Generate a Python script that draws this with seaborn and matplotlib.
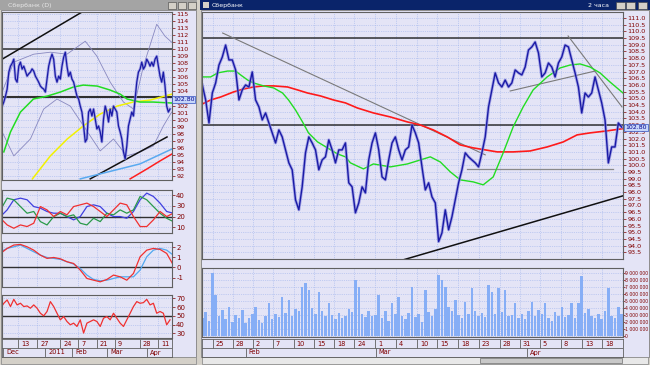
import numpy as np
import matplotlib
matplotlib.use('Agg')
import matplotlib.pyplot as plt
import matplotlib.transforms as mtrans
import seaborn as sns
from matplotlib.patches import Rectangle

# ------------------- Main window: Sberbank, 2-hour bars -------------------
price_2h = [
    106.00, 104.88, 103.16, 105.40, 106.15, 107.49, 108.09, 108.98, 107.87, 107.87,
    107.12, 104.88, 105.63, 106.00, 105.85, 106.97, 104.88, 104.36, 103.39, 103.91,
    103.16, 102.42, 101.67, 102.64, 102.12, 101.15, 100.18, 99.66, 97.42, 96.67,
    98.39, 100.93, 102.12, 101.67, 101.15, 99.66, 100.40, 100.63, 101.90, 101.15,
    100.18, 101.15, 101.15,
    101.67, 98.69, 98.39, 96.45, 97.19, 98.39, 97.94, 100.40, 101.67, 102.42,
    101.15, 99.13, 98.91, 100.40, 101.67, 102.12, 101.15, 100.40, 101.15, 101.37,
    103.01, 102.42, 101.67, 99.88, 98.16, 98.69, 97.64, 97.19, 94.30, 94.95,
    96.67, 95.18, 96.15, 97.42, 98.69, 99.66, 100.93, 100.63, 100.40, 100.18,
    99.88, 100.93,
    102.12, 104.36, 105.63, 106.90, 106.15, 105.85, 106.37, 105.85, 106.15, 107.12,
    106.90, 106.75, 107.34, 108.61, 108.84, 109.21, 108.39, 106.60, 106.90, 107.64,
    107.34, 106.60, 107.64, 108.09, 108.98, 108.84, 107.87, 106.90, 105.85, 103.91,
    105.40, 105.10, 105.40, 106.60, 105.63, 104.66, 103.39, 100.18, 101.37, 101.37,
    103.16, 102.85,
]
red_ma_x = [0, 2.5, 5.5, 9.4, 12.4, 15.4, 18.4, 21.4, 25.6, 28.6, 31.6, 35.5, 39.4, 43.0,
            46.6, 51.4, 56.5, 61.6, 65.5, 69.4, 73.6, 77.5, 81.4, 85.0, 88.6, 93.4, 98.5,
            103.6, 108.4, 112.6, 116.5, 121.6, 126.4]
red_ma = [104.58, 104.88, 105.10, 105.48, 105.70, 105.85, 105.93, 105.93, 105.85, 105.63,
          105.40, 105.18, 104.88, 104.66, 104.28, 103.91, 103.61, 103.24, 103.01, 102.64,
          102.12, 101.52, 101.30, 101.15, 101.00, 101.00, 101.07, 101.37, 101.74, 102.27,
          102.42, 102.57, 102.74]
green_ma_x = [0, 2.5, 4.6, 7.6, 10.0, 11.5, 13.6, 15.4, 18.4, 21.4, 24.1, 25.9, 28.0, 30.1,
              31.9, 34.6, 37.6, 40.6, 43.0, 44.5, 48.4, 51.4, 56.5, 61.6, 65.5, 68.5, 71.5,
              74.5, 77.5, 81.4, 84.4, 87.4, 90.4, 93.4, 96.4, 99.4, 103.6, 107.5, 110.5,
              113.5, 116.5, 119.5, 122.5, 126.4]
green_ma = [106.60, 106.60, 106.90, 107.04, 107.04, 106.75, 106.37, 106.15, 105.93, 105.78,
            105.40, 104.88, 104.13, 103.24, 102.42, 101.75, 101.30, 100.85, 100.63, 100.18,
            99.73, 100.10, 99.88, 100.10, 100.40, 100.63, 100.25, 99.51, 98.91, 98.76,
            98.54, 99.13, 100.93, 102.87, 104.36, 105.63, 106.60, 107.27, 107.49, 107.57,
            107.34, 106.90, 106.22, 105.40]
volume_mln = [
    2.6, 3.4, 2.1, 9.0, 5.9, 2.8, 3.7, 2.4, 4.2, 2.0,
    3.0, 2.5, 3.7, 1.9, 2.6, 3.2, 4.2, 2.3, 1.8, 2.9,
    4.7, 2.4, 3.1, 2.7, 5.6, 3.3, 5.1, 2.9, 3.8, 3.5,
    7.0, 7.5, 6.6, 4.0, 3.1, 6.3, 3.6, 2.8, 4.7, 3.0,
    2.4, 3.3, 2.6, 2.9, 3.9, 3.4, 8.0, 7.0, 3.2, 2.7,
    3.5, 2.8, 3.0, 5.9, 2.5, 3.6, 2.2, 4.7, 3.1, 5.6,
    2.9, 2.4, 3.3, 7.0, 2.7, 3.1, 2.0, 6.6, 3.4, 2.8,
    3.9, 8.7, 8.0, 7.0, 4.1, 3.5, 5.1, 3.0, 2.6, 4.9,
    3.2, 6.8, 3.6, 2.9, 3.3, 2.7, 7.3, 6.3, 3.1, 6.8,
    3.4, 6.6, 2.8, 3.0, 4.7, 2.5, 3.2, 2.4, 3.6, 4.9,
    2.8, 3.7, 3.1, 4.7, 2.6, 2.2, 3.4, 2.9, 4.2, 2.7,
    3.0, 4.7, 2.5, 4.7, 8.5, 3.3, 3.9, 2.8, 2.6, 3.2,
    2.4, 3.5, 6.8, 2.9, 2.6, 4.2, 3.1,
]
# drawn levels / trend lines (start, end) in bar index and price
main_hlines = [109.5, 103.0]
main_support = ([79.6, 123.4], [99.73, 99.73])
main_grey_lines = [([6.1, 85.0], [109.88, 100.78]),
                   ([109.9, 126.1], [109.66, 104.36]),
                   ([92.5, 118.0], [105.55, 107.04])]
main_black_trend = ([60.4, 126.4], [92.94, 97.72])
main_day_labels = ['25', '28', '2', '7', '10', '15', '18', '24', '1', '4',
                   '10', '15', '18', '23', '28', '31', '5', '8', '13', '18']
main_day_pos = [3.1, 9.1, 15.1, 21.1, 27.4, 33.7, 39.7, 45.7, 52.0, 58.3,
                64.6, 70.6, 76.9, 83.2, 89.5, 95.5, 101.5, 107.8, 114.1, 120.1]
main_month_labels = ['Feb', 'Mar', 'Apr']
main_month_pos = [13.0, 52.2, 97.5]
main_price_ticks = [93.5 + 0.5 * k for k in range(36)]
vol_ticks = [0, 1, 2, 3, 4, 5, 6, 7, 8, 9]
vol_tick_labels = ['0', '1 000 000', '2 000 000', '3 000 000', '4 000 000', '5 000 000',
                   '6 000 000', '7 000 000', '8 000 000', '9 000 000']
last_price = '102.80'

# ------------------- Left window: daily bars -------------------
price_d = [
    101.92, 102.50, 103.34, 104.33, 106.74, 107.59, 108.00, 108.58, 105.75, 105.32,
    107.59, 108.16, 107.17, 107.59, 106.90, 106.17, 106.50, 106.74, 107.20, 106.88,
    106.17, 105.75, 105.30, 104.76, 104.50, 104.33, 103.91, 105.75, 107.59, 108.58,
    109.29, 108.58, 106.17, 105.32, 106.17, 105.75, 107.59, 108.86, 109.57, 107.59,
    106.17, 106.74, 105.75, 105.32, 104.33, 103.34, 102.92, 101.92, 101.07, 99.09,
    96.82, 97.25, 101.07, 101.50, 100.51, 101.50, 100.08, 98.67, 99.09, 98.24,
    96.82, 100.08, 101.92, 101.07, 99.66, 101.50, 100.51, 101.92, 101.50, 101.07,
    99.09, 98.24, 97.25, 95.41, 94.42, 96.26, 99.09, 100.08, 101.07, 100.51,
    102.92, 105.32, 106.74, 107.17, 108.16, 107.17, 107.59, 108.58, 108.16, 107.59,
    108.16, 107.59, 108.58, 109.01, 107.59, 106.17, 105.32, 106.74, 104.76, 101.92,
    101.07, 101.50,
]
d_green_x = [1, 5, 11, 18.8, 27.2, 35, 42.8, 48.8, 57.2, 65, 71, 75.2, 83, 90.8, 102.2]
d_green = [95.41, 98.24, 101.07, 102.92, 103.34, 103.91, 104.62, 104.90, 104.76, 104.19,
           103.62, 102.92, 102.49, 102.49, 102.35]
d_yellow_x = [18.2, 29, 39.2, 48.8, 59, 69.2, 78.8, 89, 102.2]
d_yellow = [91.58, 94.84, 97.25, 99.09, 100.79, 101.92, 102.49, 102.77, 103.62]
d_blue_x = [47, 59, 71, 83, 93.2, 102.2]
d_blue = [91.58, 92.29, 93.00, 93.71, 94.84, 95.83]
d_red_x = [77, 87.2, 95, 102.2]
d_red = [91.58, 93.00, 94.13, 95.12]
d_bb_up_x = [0, 7, 19, 29, 39, 50, 57, 65, 73, 79, 85, 93, 98, 102]
d_bb_up = [103.91, 108.16, 109.29, 109.57, 109.29, 111.13, 109.01, 105.32, 102.49, 101.50,
           107.59, 113.54, 111.84, 110.99]
d_bb_lo_x = [0, 7, 17, 25, 33, 41, 49, 59, 67, 75, 83, 91, 97, 102]
d_bb_lo = [98.24, 94.84, 97.25, 101.50, 102.92, 101.92, 99.09, 95.55, 97.25, 94.84,
           95.41, 96.26, 99.09, 101.07]
d_hlines = [110.0, 103.2]
d_trend_up = ([0, 48.8], [108.58, 115.38])
d_trend_lo = ([53, 99.2], [91.58, 97.53])
d_day_labels = ['13', '27', '24', '7', '21', '9', '28', '11']
d_day_pos = [9.8, 21.2, 35.0, 45.8, 57.2, 68.0, 83.0, 93.8]
d_month_labels = ['Dec', '2011', 'Feb', 'Mar', 'Apr']
d_month_pos = [0.8, 26.0, 42.2, 63.2, 87.2]

# indicators (one value every 4 daily bars, first at bar -1)
adx_blue = [20, 26.2, 35.6, 37.1, 35.6, 29.3, 27.8, 24.7, 23.1, 23.1, 20, 16.9, 20, 29.3,
            30.9, 29.3, 23.1, 20, 20, 18.4, 24.7, 35.6, 41.8, 38.7, 32.5, 24.7, 23.1]
adx_green = [26.2, 37.1, 35.6, 29.3, 23.1, 24.7, 15.3, 12.2, 20, 23.1, 20, 21.6, 13.8, 12.2,
             18.4, 15.3, 23.1, 21.6, 26.2, 23.1, 26.2, 38.7, 35.6, 29.3, 23.1, 18.4, 15.3]
adx_red = [18.4, 12.2, 9.1, 12.2, 10.7, 13.8, 29.3, 26.2, 20, 24.7, 21.6, 29.3, 30.9, 32.5,
           29.3, 24.7, 20, 26.2, 32.5, 30.9, 20, 10.7, 10.7, 16.9, 24.7, 20, 23.1]
macd_red = [1.38, 1.87, 2.20, 2.26, 2.03, 1.70, 1.21, 0.89, 0.98, 0.85, 0.56, 0.39, -0.26,
            -1.08, -1.25, -1.41, -1.18, -0.75, -0.92, -1.25, -0.59, 1.05, 1.70, 1.87, 1.77,
            1.38, 0.23]
macd_blue = [1.54, 1.87, 2.03, 2.20, 1.87, 1.54, 1.21, 0.98, 0.89, 0.79, 0.56, 0.33, -0.10,
             -0.75, -1.18, -1.31, -1.25, -1.08, -0.92, -0.92, -0.92, -0.26, 1.05, 1.70, 1.87,
             1.70, 1.21]
# RSI, one value every 2 daily bars
rsi = [58.8, 64.5, 68.3, 60.7, 69.0, 62.6, 64.5, 60.7, 61.4, 58.8, 62.6, 58.8, 53.0, 50.0,
       55.0, 66.4, 60.7, 53.0, 45.4, 49.2, 43.5, 39.7, 41.6, 37.8, 45.4, 30.2, 41.6, 43.5,
       45.4, 43.5, 37.8, 47.3, 49.2, 45.4, 53.0, 47.3, 41.6, 37.8, 45.4, 53.0, 60.7, 66.4,
       64.5, 65.2, 69.0, 62.6, 64.5, 53.0, 55.0, 53.0, 39.7, 45.4]

# ------------------- Styling -------------------
BG = '#e4e4f6'
GRID = '#9db2ec'
LBL = '#800000'
W, H = 650, 365

fig = plt.figure(figsize=(6.5, 3.65), dpi=100)
fig.patch.set_facecolor('#d4d0c8')


def px_axes(x0, y0, x1, y1):
    return fig.add_axes([x0 / W, 1 - y1 / H, (x1 - x0) / W, (y1 - y0) / H])


# window chrome drawn in pixel space
bg = px_axes(0, 0, W, H)
bg.set_xlim(0, W)
bg.set_ylim(H, 0)
bg.axis('off')


def box(x0, y0, x1, y1, fc, ec='none', lw=0.6):
    bg.add_patch(Rectangle((x0, y0), x1 - x0, y1 - y0, facecolor=fc, edgecolor=ec, linewidth=lw))


box(1, 10, 196, 357, BG, ec='#808080')
box(0, 0, 197, 10, '#a4a4a4')
box(1, 357, 196, 364, '#d4d0c8', ec='#909090')
box(201, 10, 649, 357, BG, ec='#808080')
box(200, 0, 650, 10, '#0a246a')
box(202, 357, 648, 364, '#e8e8e8', ec='#909090')
box(480, 358, 622, 363, '#c8c8c8', ec='#808080')
box(203, 2, 209, 8, '#d4d0c8')
for bx in (616, 626, 638):
    box(bx, 1.5, bx + 9, 8.5, '#d4d0c8', ec='#404040', lw=0.4)
for bx in (168, 178, 188):
    box(bx, 1.5, bx + 8, 8.5, '#d4d0c8', ec='#404040', lw=0.4)
bg.text(212, 5.2, 'Сбербанк', color='white', fontsize=4.5, va='center')
bg.text(588, 5.2, '2 часа', color='white', fontsize=4.5, va='center')
bg.text(8, 5.2, 'Сбербанк (D)', color='#e8e8e8', fontsize=4.5, va='center')


def style_panel(ax, xlim, ylim, yticks, ylabels, xgrid, fs=5):
    ax.set_facecolor(BG)
    ax.set_xlim(xlim)
    ax.set_ylim(ylim)
    ax.yaxis.tick_right()
    ax.set_yticks(yticks)
    ax.set_yticklabels(ylabels, fontsize=fs, color=LBL)
    ax.tick_params(axis='y', length=2, pad=1, width=0.5, colors=LBL)
    ax.set_xticks(xgrid)
    ax.set_xticklabels([])
    ax.tick_params(axis='x', length=0)
    ax.grid(True, color=GRID, lw=0.5, ls=':')
    ax.set_axisbelow(True)
    for s in ax.spines.values():
        s.set_color('#606060')
        s.set_linewidth(0.8)
    ax.set_xlabel('')
    ax.set_ylabel('')


def price_box(ax, y, text):
    tr = mtrans.blended_transform_factory(ax.transAxes, ax.transData)
    ax.text(1.005, y, text, transform=tr, fontsize=4.5, color='#00008b', va='center',
            ha='left', bbox=dict(boxstyle='square,pad=0.15', fc='#c6d6fa', ec='#3050c0', lw=0.5),
            zorder=10, clip_on=False)


def date_axis(ax, xlim, days, dpos, months, mpos):
    ax.set_facecolor(BG)
    ax.set_xlim(xlim)
    ax.set_ylim(0, 2)
    ax.set_xticks([])
    ax.set_yticks([])
    for s in ax.spines.values():
        s.set_color('#606060')
        s.set_linewidth(0.6)
    ax.axhline(1, color='#606060', lw=0.6)
    ax.vlines(dpos, 1, 2, color='#606060', lw=0.6)
    ax.vlines(mpos, 0, 1, color='#606060', lw=0.6)
    for p, t in zip(dpos, days):
        ax.annotate(t, (p, 1.5), xytext=(2, 0), textcoords='offset points',
                    fontsize=4.8, color=LBL, va='center', annotation_clip=False)
    for p, t in zip(mpos, months):
        ax.annotate(t, (p, 0.5), xytext=(2, 0), textcoords='offset points',
                    fontsize=4.8, color=LBL, va='center', annotation_clip=False)


# ------------------- Main price panel -------------------
idx = np.arange(len(price_2h))
main_xlim = (-0.1, 126.4)
ax = px_axes(202, 12, 623, 259)
style_panel(ax, main_xlim, (93.0, 111.45), main_price_ticks,
            ['%.1f' % v for v in main_price_ticks], main_day_pos, fs=4.6)
for lv in main_hlines:
    ax.axhline(lv, color='#303030', lw=1.1)
ax.plot(*main_support, color='#8a8a8a', lw=0.9)
for xs, ys in main_grey_lines:
    ax.plot(xs, ys, color='#7a7a7a', lw=0.8)
ax.plot(*main_black_trend, color='#101010', lw=1.1)
sns.lineplot(x=red_ma_x, y=red_ma, ax=ax, color='#ff1a1a', linewidth=1.2)
sns.lineplot(x=green_ma_x, y=green_ma, ax=ax, color='#22dd22', linewidth=1.0)
sns.lineplot(x=idx, y=price_2h, ax=ax, color='#8c8ce0', linewidth=2.2, alpha=0.7)
sns.lineplot(x=idx, y=price_2h, ax=ax, color='#1a1aa6', linewidth=1.0)
ax.set_xlabel('')
ax.set_ylabel('')
price_box(ax, 102.8, last_price)

# ------------------- Volume panel -------------------
axv = px_axes(202, 268, 623, 337)
style_panel(axv, main_xlim, (-0.15, 9.7), vol_ticks, vol_tick_labels, main_day_pos, fs=3.3)
axv.tick_params(axis='y', length=1.2, pad=0.3)
axv.bar(idx, volume_mln, width=0.75, color='#86aef6', edgecolor='none')

axd = px_axes(202, 339, 623, 357)
date_axis(axd, main_xlim, main_day_labels, main_day_pos, main_month_labels, main_month_pos)

# ------------------- Left daily price panel -------------------
kd = np.arange(len(price_d))
left_xlim = (-0.1, 102.2)
axl = px_axes(2, 12, 172, 180)
left_ticks = list(range(92, 116))
style_panel(axl, left_xlim, (91.42, 115.28), left_ticks, [str(v) for v in left_ticks], d_day_pos,
            fs=4.6)
for lv in d_hlines:
    axl.axhline(lv, color='#303030', lw=1.1 if lv > 105 else 1.5)
sns.lineplot(x=d_bb_up_x, y=d_bb_up, ax=axl, color='#8888c0', linewidth=0.6)
sns.lineplot(x=d_bb_lo_x, y=d_bb_lo, ax=axl, color='#8888c0', linewidth=0.6)
axl.plot(*d_trend_up, color='#101010', lw=1.1)
axl.plot(*d_trend_lo, color='#101010', lw=1.1)
sns.lineplot(x=d_blue_x, y=d_blue, ax=axl, color='#5aaaf0', linewidth=1.1)
sns.lineplot(x=d_red_x, y=d_red, ax=axl, color='#ff2020', linewidth=1.1)
sns.lineplot(x=d_yellow_x, y=d_yellow, ax=axl, color='#f2f200', linewidth=1.1)
sns.lineplot(x=d_green_x, y=d_green, ax=axl, color='#22dd22', linewidth=1.1)
sns.lineplot(x=kd, y=price_d, ax=axl, color='#8c8ce0', linewidth=2.0, alpha=0.7)
sns.lineplot(x=kd, y=price_d, ax=axl, color='#1a1aa6', linewidth=0.9)
axl.set_xlabel('')
axl.set_ylabel('')
price_box(axl, 102.8, last_price)

# ------------------- Left indicators -------------------
k4 = np.arange(len(adx_blue)) * 4 - 1
k2 = np.arange(len(rsi)) * 2 - 1

ax1 = px_axes(2, 190, 172, 233)
style_panel(ax1, left_xlim, (4.7, 44.7), [10, 20, 30, 40], ['10', '20', '30', '40'], d_day_pos)
ax1.axhline(20, color='#303030', lw=1.0)
sns.lineplot(x=k4, y=adx_blue, ax=ax1, color='#4040e0', linewidth=0.9)
sns.lineplot(x=k4, y=adx_green, ax=ax1, color='#2a9a4a', linewidth=0.9)
sns.lineplot(x=k4, y=adx_red, ax=ax1, color='#f03030', linewidth=0.9)

ax2 = px_axes(2, 242, 172, 287)
style_panel(ax2, left_xlim, (-1.92, 2.5), [-1, 0, 1, 2], ['-1', '0', '1', '2'], d_day_pos)
ax2.axhline(0, color='#303030', lw=1.0)
sns.lineplot(x=k4, y=macd_blue, ax=ax2, color='#50a8f0', linewidth=0.9)
sns.lineplot(x=k4, y=macd_red, ax=ax2, color='#f03030', linewidth=0.9)

ax3 = px_axes(2, 295, 172, 338)
style_panel(ax3, left_xlim, (24.5, 74), [30, 40, 50, 60, 70], ['30', '40', '50', '60', '70'],
            d_day_pos)
ax3.axhline(50, color='#303030', lw=1.0)
sns.lineplot(x=k2, y=rsi, ax=ax3, color='#f03030', linewidth=0.9)

for a in (ax1, ax2, ax3):
    a.set_xlabel('')
    a.set_ylabel('')

axld = px_axes(2, 339, 172, 357)
date_axis(axld, left_xlim, d_day_labels, d_day_pos, d_month_labels, d_month_pos)

fig.savefig('out.png', dpi=100, facecolor=fig.get_facecolor())
